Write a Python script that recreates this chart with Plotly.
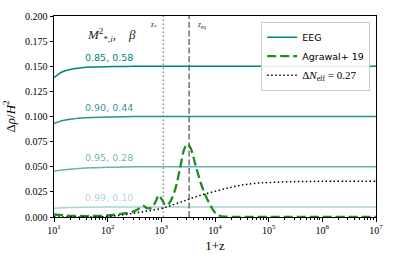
import plotly.graph_objects as go

# ---------------- data ----------------
# EEG curves: 1+z grid and Delta rho / H^2 values
eeg_z = [10, 12, 14, 20, 33, 50, 100, 200, 500, 1e3, 1e4, 1e5, 1e6, 1e7]
eeg_085 = [0.1386, 0.1420, 0.1443, 0.1468, 0.1485, 0.1492, 0.1496, 0.1498, 0.1500, 0.1500, 0.1500, 0.1500, 0.1500, 0.1500]
eeg_090 = [0.0930, 0.0945, 0.0957, 0.0972, 0.0984, 0.0990, 0.0995, 0.0998, 0.1000, 0.1000, 0.1000, 0.1000, 0.1000, 0.1000]
eeg_095 = [0.0455, 0.0462, 0.0468, 0.0476, 0.0485, 0.0490, 0.0495, 0.0498, 0.0500, 0.0500, 0.0500, 0.0500, 0.0500, 0.0500]
eeg_099 = [0.0088, 0.0089, 0.0091, 0.0094, 0.0096, 0.0097, 0.0099, 0.0100, 0.0100, 0.0100, 0.0100, 0.0100, 0.0100, 0.0100]
eeg_labels = ["0.85, 0.58", "0.90, 0.44", "0.95, 0.28", "0.99, 0.10"]
eeg_label_y = [0.159, 0.1085, 0.059, 0.019]

# Agrawal+ 19 (log10(1+z), value)
agrawal_logz = [1.0, 1.15, 1.3, 1.5, 1.7, 1.9, 2.0, 2.1, 2.2, 2.3, 2.4, 2.5, 2.6, 2.66, 2.74, 2.82,
                2.9, 2.95, 3.02, 3.08, 3.15, 3.25, 3.35, 3.43, 3.49, 3.55, 3.65, 3.77, 3.9, 4.0,
                4.1, 4.3, 5.0, 6.0, 7.0]
agrawal_val = [0.0025, 0.0018, 0.0012, 0.0010, 0.0010, 0.0012, 0.0015, 0.0020, 0.0027, 0.0035, 0.0042, 0.0058, 0.0088, 0.0110, 0.0088, 0.0092,
               0.0160, 0.0215, 0.0165, 0.0115, 0.0140, 0.0260, 0.0490, 0.0680, 0.0725, 0.0680, 0.0490, 0.0286, 0.0130, 0.0045,
               0.0010, 0.0002, 0.0, 0.0, 0.0]

# Delta N_eff = 0.27 (log10(1+z), value)
neff_logz = [1.0, 1.8, 2.0, 2.2, 2.4, 2.6, 2.8, 3.0, 3.2, 3.4, 3.53, 3.75, 4.0, 4.25, 4.5, 4.75, 5.0, 5.5, 6.0, 7.0]
neff_val = [0.0, 0.0, 0.0005, 0.0015, 0.0030, 0.0048, 0.0065, 0.0085, 0.0118, 0.0155, 0.0180, 0.0220, 0.0255, 0.0290, 0.0318, 0.0335, 0.0343, 0.0352, 0.0355, 0.0356]

z_star = 1090
z_eq = 3300

x_tickvals = [1e1, 1e2, 1e3, 1e4, 1e5, 1e6, 1e7]
x_ticktext = ["10<sup>1</sup>", "10<sup>2</sup>", "10<sup>3</sup>", "10<sup>4</sup>",
              "10<sup>5</sup>", "10<sup>6</sup>", "10<sup>7</sup>"]
y_tickvals = [0.0, 0.025, 0.05, 0.075, 0.1, 0.125, 0.15, 0.175, 0.2]

# ---------------- figure ----------------
SERIF = "Liberation Serif"
SANS = "DejaVu Sans"
teal_colors = ["rgba(0,128,128,1)", "rgba(0,128,128,0.85)", "rgba(0,128,128,0.6)", "rgba(0,128,128,0.35)"]

fig = go.Figure()

# vertical reference lines
fig.add_trace(go.Scatter(x=[z_star, z_star], y=[0, 0.2], mode="lines",
                         line=dict(color="#8a8a8a", width=1.4, dash="1.5px,2.5px"),
                         showlegend=False, hoverinfo="skip"))
fig.add_trace(go.Scatter(x=[z_eq, z_eq], y=[0, 0.2], mode="lines",
                         line=dict(color="#7a7a7a", width=1.6, dash="6px,2.6px"),
                         showlegend=False, hoverinfo="skip"))

for i, vals in enumerate([eeg_085, eeg_090, eeg_095, eeg_099]):
    fig.add_trace(go.Scatter(x=eeg_z, y=vals, mode="lines", line_shape="spline",
                             line=dict(color=teal_colors[i], width=1.5),
                             name="EEG", showlegend=(i == 0), legendrank=1))

fig.add_trace(go.Scatter(x=[10 ** v for v in agrawal_logz], y=agrawal_val, mode="lines",
                         line_shape="spline",
                         line=dict(color="#228B22", width=2.3, dash="9px,4px"),
                         name="Agrawal+ 19", legendrank=2))
fig.add_trace(go.Scatter(x=[10 ** v for v in neff_logz], y=neff_val, mode="lines",
                         line_shape="spline",
                         line=dict(color="black", width=1.5, dash="1.5px,2.5px"),
                         name=f'<span style="font-family:{SERIF};font-size:11px">Δ<i>N</i><sub>eff</sub> = 0.27</span>',
                         legendrank=3))

# curve labels
for lab, ly, col in zip(eeg_labels, eeg_label_y, teal_colors):
    fig.add_annotation(x=2.02, y=ly, xref="x", yref="y", text=lab, showarrow=False,
                       font=dict(family=SANS, size=9.5, color=col))

fig.add_annotation(x=2.07, y=0.181, xref="x", yref="y",
                   text="<i>M</i><sup>2</sup><sub>*,<i>i</i></sub>,    <i>β</i>",
                   showarrow=False, font=dict(family=SERIF, size=13, color="#222"))
fig.add_annotation(x=2.85, y=0.1915, xref="x", yref="y", text="<i>z</i><sub>*</sub>",
                   showarrow=False, font=dict(family=SERIF, size=7.5, color="#333"))
fig.add_annotation(x=3.75, y=0.1915, xref="x", yref="y", text="<i>z</i><sub>eq</sub>",
                   showarrow=False, font=dict(family=SERIF, size=7.5, color="#333"))

minor_vals = [m * 10 ** d for d in range(1, 7) for m in range(2, 10)]

fig.update_layout(
    width=393, height=261,
    margin=dict(l=52, r=14, t=10, b=39),
    paper_bgcolor="white", plot_bgcolor="white",
    font=dict(family=SERIF, size=10, color="black"),
    legend=dict(x=0.982, xanchor="right", y=0.972, yanchor="top",
                bgcolor="rgba(255,255,255,0.9)", bordercolor="#cccccc", borderwidth=1,
                font=dict(family=SANS, size=9.5, color="black"), tracegroupgap=0,
                itemwidth=30),
)
fig.update_xaxes(type="log", range=[1, 7], showline=True, linecolor="black", linewidth=1,
                 mirror=True, ticks="outside", ticklen=3.5, tickwidth=0.8, tickcolor="black",
                 tickvals=x_tickvals, ticktext=x_ticktext, showgrid=False, zeroline=False,
                 tickfont=dict(family=SERIF, size=10),
                 minor=dict(tickvals=minor_vals, ticks="outside", ticklen=2, tickwidth=0.6,
                            tickcolor="black", showgrid=False),
                 title=dict(text="1+z", font=dict(family=SERIF, size=13), standoff=6))
fig.update_yaxes(range=[0, 0.2], showline=True, linecolor="black", linewidth=1, mirror=True,
                 ticks="outside", ticklen=3.5, tickwidth=0.8, tickcolor="black",
                 tickvals=y_tickvals, tickformat=".3f", showgrid=False, zeroline=False,
                 tickfont=dict(family=SERIF, size=10),
                 title=dict(text="Δ<i>ρ</i>/<i>H</i><sup>2</sup>", font=dict(family=SERIF, size=13),
                            standoff=6))

fig.write_html("out.html", config={"displayModeBar": False},
               post_script="document.body.style.margin='0';document.body.style.padding='0';")
